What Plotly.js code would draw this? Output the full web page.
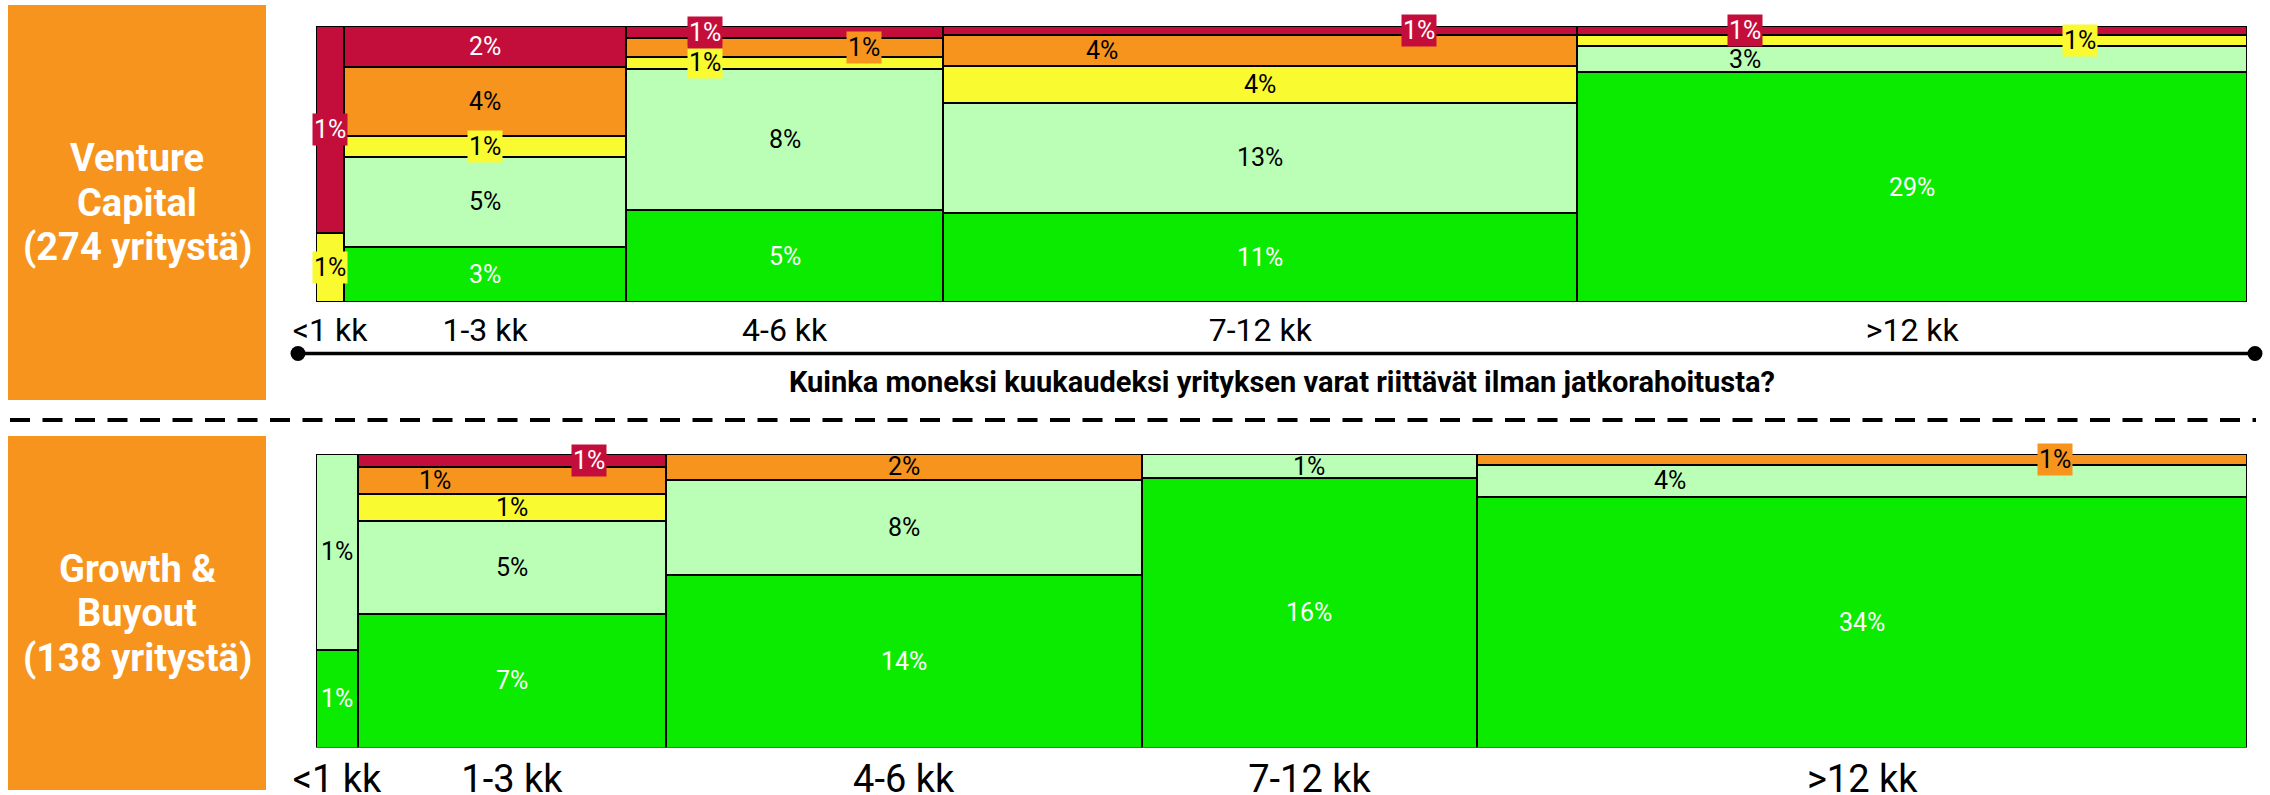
<!DOCTYPE html>
<html><head><meta charset="utf-8">
<script src="https://cdn.plot.ly/plotly-3.0.1.min.js"></script>
<style>html,body{margin:0;padding:0;background:#fff;}#chart{width:2270px;height:795px;}</style>
</head><body><div id="chart"></div>
<script>
// ---------- DATA ----------
const categories = ['<1 kk', '1-3 kk', '4-6 kk', '7-12 kk', '>12 kk'];
const seriesNames = ['vihreä', 'vaaleanvihreä', 'keltainen', 'oranssi', 'punainen']; // bottom -> top
// Venture Capital: number of companies per category and series
const vcGreen      = [0, 8, 15, 29, 79];
const vcLightGreen = [0, 13, 23, 36, 9];
const vcYellow     = [1, 3, 2, 12, 4];
const vcOrange     = [0, 10, 3, 10, 0];
const vcRed        = [3, 6, 2, 3, 3];
// Growth & Buyout
const gbGreen      = [1, 10, 20, 22, 47];
const gbLightGreen = [2, 7, 11, 2, 6];
const gbYellow     = [0, 2, 0, 0, 0];
const gbOrange     = [0, 2, 3, 0, 2];
const gbRed        = [0, 1, 0, 0, 0];
const panelNames = [['Venture', 'Capital'], ['Growth &', 'Buyout']];
const axisTitleText = 'Kuinka moneksi kuukaudeksi yrityksen varat riittävät ilman jatkorahoitusta?';

// ---------- STYLE ----------
const W = 2270, H = 795;
const FONT = 'Roboto, "Liberation Sans", Arial, sans-serif';
const colors = ['#0AEB00', '#BBFFB6', '#FAFA30', '#F7941E', '#C30E3B'];
const textColors = ['#ffffff', '#000000', '#000000', '#000000', '#ffffff'];
const boxColor = '#F7941E';
const plotLeft = 316, plotRight = 2247;
const panels = [
  {key: 'vc', series: [vcGreen, vcLightGreen, vcYellow, vcOrange, vcRed], top: 26, bottom: 302, xa: 'x', ya: 'y',
   boxTop: 5, boxBottom: 400, tickSize: 32},
  {key: 'gb', series: [gbGreen, gbLightGreen, gbYellow, gbOrange, gbRed], top: 454, bottom: 747.5, xa: 'x2', ya: 'y2',
   boxTop: 436, boxBottom: 790, tickSize: 38}
];
// horizontal placement of crowded labels: l = left quarter, r = right quarter
const labelShift = {
  'vc|2|4': 'l', 'vc|2|3': 'r', 'vc|2|2': 'l',
  'vc|3|3': 'l', 'vc|3|4': 'r',
  'vc|4|4': 'l', 'vc|4|2': 'r', 'vc|4|1': 'l',
  'gb|1|4': 'r', 'gb|1|3': 'l',
  'gb|4|3': 'r', 'gb|4|1': 'l'
};

const py = p => 1 - p / H;
const pxx = p => p / W;

const traces = [], annotations = [], shapes = [];
const layout = {
  width: W, height: H, margin: {l: 0, r: 0, t: 0, b: 0},
  paper_bgcolor: '#ffffff', plot_bgcolor: '#ffffff',
  showlegend: false, barmode: 'stack', bargap: 0,
  font: {family: FONT, color: '#000'},
  annotations, shapes
};

panels.forEach((p, pi) => {
  const totals = categories.map((c, i) => p.series.reduce((s, arr) => s + arr[i], 0));
  const N = totals.reduce((a, b) => a + b, 0);
  const starts = []; let acc = 0;
  totals.forEach(t => { starts.push(acc); acc += t; });
  const centers = totals.map((t, i) => starts[i] + t / 2);
  const plotH = p.bottom - p.top;
  const plotW = plotRight - plotLeft;
  const axNum = pi === 0 ? '' : '2';

  layout['xaxis' + axNum] = {
    domain: [pxx(plotLeft), pxx(plotRight)], range: [0, N], anchor: 'y' + axNum,
    tickmode: 'array', tickvals: centers, ticktext: categories,
    showgrid: false, zeroline: false, showline: false, ticks: '',
    tickfont: {family: FONT, size: p.tickSize, color: '#000'}, ticklabelstandoff: pi === 0 ? 6 : 5, fixedrange: true
  };
  layout['yaxis' + axNum] = {
    domain: [py(p.bottom), py(p.top)], range: [0, 100], anchor: 'x' + axNum,
    visible: false, fixedrange: true
  };

  const cum = totals.map(() => 0);
  p.series.forEach((arr, si) => {
    const shares = arr.map((v, i) => v > 0 ? v / totals[i] * 100 : null);
    traces.push({
      type: 'bar', name: seriesNames[si], x: centers, y: shares, width: totals,
      xaxis: p.xa, yaxis: p.ya,
      marker: {color: colors[si], line: {color: '#000', width: 2}},
      hoverinfo: 'skip'
    });
    arr.forEach((v, i) => {
      if (v <= 0) return;
      const share = v / totals[i] * 100;
      const mid = cum[i] + share / 2;
      cum[i] += share;
      const shift = labelShift[p.key + '|' + i + '|' + si];
      const x = shift === 'l' ? starts[i] + totals[i] * 0.25 : shift === 'r' ? starts[i] + totals[i] * 0.75 : centers[i];
      const hPx = share / 100 * plotH;
      const wPx = totals[i] / N * plotW;
      const boxed = hPx < 23 || wPx < 36;
      annotations.push({
        xref: p.xa, yref: p.ya, x: x, y: mid, showarrow: false,
        text: Math.max(1, Math.round(v / N * 100)) + '%',
        font: {family: FONT, size: 25, color: textColors[si]},
        bgcolor: boxed ? colors[si] : 'rgba(0,0,0,0)', borderpad: 1,
        xanchor: 'center', yanchor: 'middle'
      });
    });
  });

  // left side label box
  shapes.push({type: 'rect', xref: 'paper', yref: 'paper', x0: pxx(8), x1: pxx(266), y0: py(p.boxBottom), y1: py(p.boxTop),
    fillcolor: boxColor, line: {width: 0}, layer: 'below'});
  const lines = panelNames[pi].concat(['(' + N + ' yritystä)']);
  const mid = (p.boxTop + p.boxBottom) / 2;
  lines.forEach((t, li) => {
    annotations.push({xref: 'paper', yref: 'paper', x: pxx(137), y: py(mid + (li - 1) * 44.5), text: t,
      showarrow: false, xanchor: 'center', yanchor: 'middle',
      font: {family: FONT, size: 38, color: '#ffffff', weight: 'bold'}});
  });
});

// axis arrow line with dots (top panel)
shapes.push({type: 'line', xref: 'paper', yref: 'paper', x0: pxx(298), x1: pxx(2255), y0: py(353.5), y1: py(353.5),
  line: {color: '#000', width: 3.5}});
[298, 2255].forEach(cx => shapes.push({type: 'circle', xref: 'paper', yref: 'paper',
  x0: pxx(cx - 7.5), x1: pxx(cx + 7.5), y0: py(353.5 + 7.5), y1: py(353.5 - 7.5), fillcolor: '#000', line: {width: 0}}));
// dashed separator
shapes.push({type: 'line', xref: 'paper', yref: 'paper', x0: pxx(10), x1: pxx(2256), y0: py(420), y1: py(420),
  line: {color: '#000', width: 4, dash: '20px,12.5px'}});
// axis title
annotations.push({xref: 'x domain', yref: 'paper', x: 0.5, y: py(382), text: axisTitleText, showarrow: false,
  xanchor: 'center', yanchor: 'middle', font: {family: FONT, size: 29, color: '#000', weight: 'bold'}});

Plotly.newPlot('chart', traces, layout, {staticPlot: true, displayModeBar: false});
</script></body></html>
